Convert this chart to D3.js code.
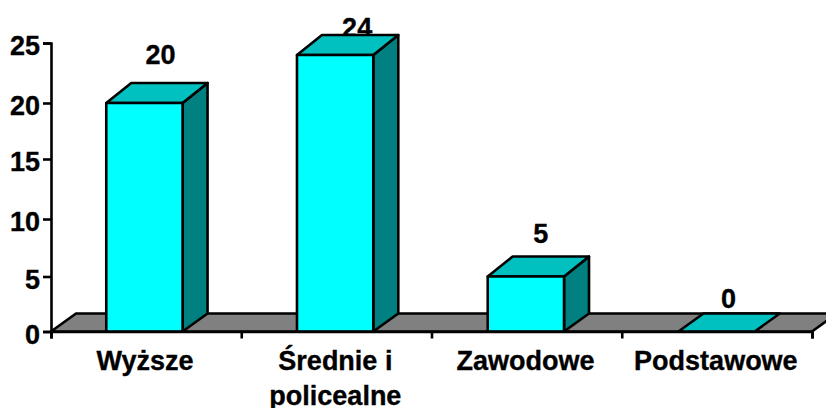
<!DOCTYPE html>
<html>
<head>
<meta charset="utf-8">
<script src="https://cdn.jsdelivr.net/npm/d3@7"></script>
<style>
  html, body { margin: 0; padding: 0; background: #fff; overflow: hidden; }
  text { font-family: "Liberation Sans", Arial, sans-serif; font-weight: bold; fill: #000; stroke: #000; stroke-width: 0.35px; }
</style>
</head>
<body>
<div id="chart"></div>
<script>
// Chart data
var categories = [["Wyższe"], ["Średnie i", "policealne"], ["Zawodowe"], ["Podstawowe"]];
var values = [20, 24, 5, 0];
var yTicks = [0, 5, 10, 15, 20, 25];

var width = 826, height = 408;
var fontSize = 27;
var strokeW = 2.6;

var svg = d3.select("#chart")
  .append("svg")
    .attr("width", width)
    .attr("height", height);

// Scales (the reference's ticks are not quite evenly spaced, so y has several stops)
var y = d3.scaleLinear()
    .domain(yTicks)
    .range([331.5, 276.5, 219, 159, 103, 43]);

var x = d3.scaleBand()
    .domain(d3.range(categories.length))
    .range([50, 811])
    .paddingInner(0.6)
    .paddingOuter(0.295);

var xEdge = d3.scaleLinear()
    .domain([0, categories.length])
    .range([51, 812]);

// Label height above the bar shrinks towards small values
var labelY = d3.scaleLinear()
    .domain([0, 5, 20])
    .range([308, 243, 64]);

// Data labels don't sit at the same distance right of each bar
var labelShift = [16, 22, 15, 12];

var depthX = 25, depthFloor = 18, depthTop = 20;
var y0 = y(0);
var line = function(pts) { return "M" + pts.join("L") + "Z"; };

// Floor
svg.append("path")
    .attr("d", line([[xEdge(0), y0], [xEdge(0) + depthX, y0 - depthFloor],
                     [xEdge(4) + depthX, y0 - depthFloor], [xEdge(4), y0]]))
    .attr("fill", "#808080")
    .attr("stroke", "#000")
    .attr("stroke-width", strokeW);

// Data labels go under the bars, the 24 is partly hidden by its bar
svg.append("g")
  .selectAll("text")
  .data(values)
  .enter()
  .append("text")
    .attr("x", function(d, i) { return x(i) + x.bandwidth() / 2 + labelShift[i]; })
    .attr("y", function(d) { return d > 20 ? 37 : labelY(d); })
    .attr("text-anchor", "middle")
    .style("font-size", fontSize + "px")
    .text(function(d) { return d; });

// Bars
var bars = svg.append("g")
  .selectAll("g")
  .data(values)
  .enter()
  .append("g")
    .attr("stroke", "#000")
    .attr("stroke-width", strokeW)
    .attr("stroke-linejoin", "round");

// Side face
bars.filter(function(d) { return d > 0; })
  .append("path")
    .attr("fill", "#008080")
    .attr("d", function(d) {
      var r = x(values.indexOf(d)) + x.bandwidth();
      return line([[r, y0], [r + depthX, y0 - depthFloor],
                   [r + depthX, y(d) - depthTop], [r, y(d)]]);
    });

// Top face
bars.append("path")
    .attr("fill", "#00C0C0")
    .attr("d", function(d) {
      var l = x(values.indexOf(d)), r = l + x.bandwidth();
      var dy = d > 0 ? depthTop : depthFloor;
      return line([[l, y(d)], [l + depthX, y(d) - dy], [r + depthX, y(d) - dy], [r, y(d)]]);
    });

// Front face
bars.filter(function(d) { return d > 0; })
  .append("rect")
    .attr("fill", "#00FFFF")
    .attr("x", function(d) { return x(values.indexOf(d)); })
    .attr("y", function(d) { return y(d); })
    .attr("width", x.bandwidth())
    .attr("height", function(d) { return y0 - y(d); });

// Y axis
var yAxis = svg.append("g")
    .attr("transform", "translate(51,0)")
    .call(d3.axisLeft(y).tickValues(yTicks).tickSize(8).tickPadding(3));
yAxis.select(".domain").attr("stroke", "#000").attr("stroke-width", strokeW);
yAxis.selectAll(".tick line").attr("stroke", "#000").attr("stroke-width", strokeW);
yAxis.selectAll(".tick text")
    .attr("dy", "0.44em")
    .style("font-size", fontSize + "px")
    .style("font-family", "'Liberation Sans', Arial, sans-serif");

// X axis, ticks sit between the categories
var xAxis = svg.append("g")
    .attr("transform", "translate(0," + y0 + ")")
    .call(d3.axisBottom(xEdge).ticks(categories.length).tickSize(7).tickFormat(""));
xAxis.select(".domain").attr("stroke", "#000").attr("stroke-width", strokeW);
xAxis.selectAll(".tick line").attr("stroke", "#000").attr("stroke-width", strokeW);

// Category labels
var catLabels = svg.append("g")
  .selectAll("text")
  .data(categories)
  .enter()
  .append("text")
    .attr("text-anchor", "middle")
    .style("font-size", fontSize + "px");

catLabels.selectAll("tspan")
  .data(function(d, i) { return d.map(function(s) { return {s: s, i: i}; }); })
  .enter()
  .append("tspan")
    .attr("x", function(d) { return xEdge(d.i + 0.5) - 1; })
    .attr("y", function(d, j) { return 370 + j * 35; })
    .text(function(d) { return d.s; });
</script>
</body>
</html>
